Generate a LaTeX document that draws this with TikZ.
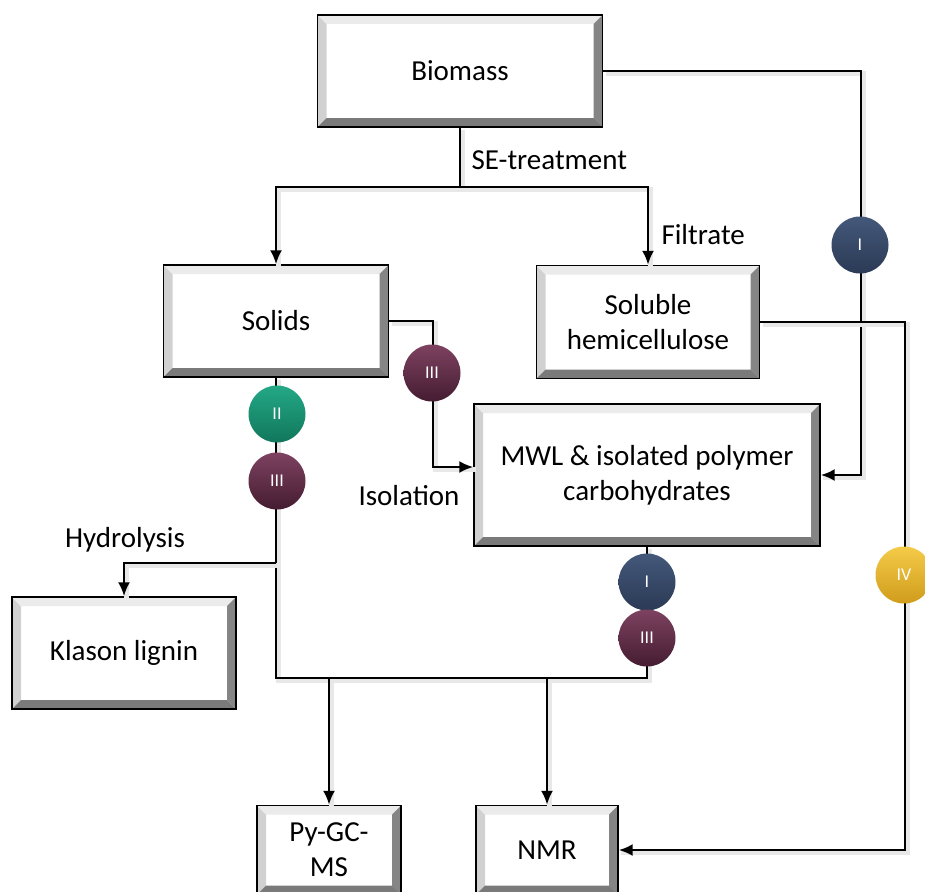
\documentclass[tikz,border=0pt]{standalone}
\usepackage{fontspec}
\setmainfont{Carlito}
\usetikzlibrary{arrows.meta}
\usetikzlibrary{calc}
\usetikzlibrary{positioning}

\definecolor{stageIt}{HTML}{44587A}
\definecolor{stageIb}{HTML}{2B3A55}
\definecolor{stageIIt}{HTML}{23A886}
\definecolor{stageIIb}{HTML}{11775C}
\definecolor{stageIIIt}{HTML}{7D4260}
\definecolor{stageIIIb}{HTML}{451C31}
\definecolor{stageIVt}{HTML}{F4CB48}
\definecolor{stageIVb}{HTML}{D09C1C}

\tikzset{
  bevelbox/.style 2 args={draw=black, line width=1.3pt, fill=white,
    minimum width=#1, minimum height=#2, align=center, inner sep=0pt,
    path picture={
      \fill [black!18] let \p1=(path picture bounding box.south west),
        \p2=(path picture bounding box.north east) in
        (\x1,\y1) -- (\x1,\y2) -- (\x1+9pt,\y2-9pt) -- (\x1+9pt,\y1+9pt) -- cycle;
      \fill [black!8] let \p1=(path picture bounding box.south west),
        \p2=(path picture bounding box.north east) in
        (\x1,\y2) -- (\x2,\y2) -- (\x2-9pt,\y2-9pt) -- (\x1+9pt,\y2-9pt) -- cycle;
      \fill [black!48] let \p1=(path picture bounding box.south west),
        \p2=(path picture bounding box.north east) in
        (\x2,\y2) -- (\x2,\y1) -- (\x2-9pt,\y1+9pt) -- (\x2-9pt,\y2-9pt) -- cycle;
      \fill [black!52] let \p1=(path picture bounding box.south west),
        \p2=(path picture bounding box.north east) in
        (\x1,\y1) -- (\x2,\y1) -- (\x2-9pt,\y1+9pt) -- (\x1+9pt,\y1+9pt) -- cycle;
    }},
  conn/.style={line width=2.6pt, -{Latex[length=14pt,width=12pt]},
    preaction={draw=black!9, line width=5pt, -,
      transform canvas={shift={(2.5pt,-2.5pt)}}}},
  line/.style={conn, -},
  stage/.style 2 args={circle, minimum size=57pt, inner sep=0pt,
    top color=#1, bottom color=#2, text=white,
    font=\fontsize{18}{20}\selectfont},
  lbl/.style={font=\fontsize{29}{35}\selectfont}
}

\begin{document}
\begin{tikzpicture}[x=1pt, y=-1pt, font=\fontsize{29}{35}\selectfont]

    \clip (0,0) rectangle (925,891);

    % boxes
    \node [bevelbox={285}{112}] (biomass) at (460,71) {Biomass};
    \node [bevelbox={225}{112}] (solids) at (276,321) {Solids};
    \node [bevelbox={223}{113}] (soluble) at (648,322) {Soluble\\hemicellulose};
    \node [bevelbox={346}{142}] (mwl) at (647,475)
    {MWL \& isolated polymer\\carbohydrates};
    \node [bevelbox={224}{112}] (klason) at (124,653) {Klason lignin};
    \node [bevelbox={144}{89}] (pygcms) at (329,850) {Py-GC-\\MS};
    \node [bevelbox={142}{89}] (nmr) at (547,850) {NMR};

    \coordinate (split) at (460,187);
    \coordinate (hydro) at (276,563);
    \coordinate (join) at (276,678);

    % connectors
    \draw [line] (biomass.south) -- (split);
    \draw [conn] (split) -| (solids.north);
    \draw [conn] (split) -| (soluble.north);

    \draw [conn] (biomass.east) -- ++(258,0) |- (mwl.east);
    \draw [conn] (solids.east) -- ++(44,0) |- ($(mwl.west)+(0,-8)$);
    \draw [conn] (soluble.east) -- ++(145,0) |- (nmr.east);

    \draw [line] (solids.south) -- (join) -| (mwl.south);
    \draw [conn] (hydro) -| (klason.north);
    \draw [conn] (join -| pygcms.north) -- (pygcms.north);
    \draw [conn] (join -| nmr.north) -- (nmr.north);

    % stages
    \node [stage={stageIt}{stageIb}] (sI) at (860,245) {I};
    \node [stage={stageIIIt}{stageIIIb}] (sIIIa) at (432,373) {III};
    \node [stage={stageIIt}{stageIIb}] (sII) at (277,414) {II};
    \node [stage={stageIIIt}{stageIIIb}] (sIIIb) at (277,481) {III};
    \node [stage={stageIt}{stageIb}] (sIb) at (647,582) {I};
    \node [stage={stageIIIt}{stageIIIb}] (sIIIc) at (647,638) {III};
    \node [stage={stageIVt}{stageIVb}] (sIV) at (904,575) {IV};

    % labels
    \node [lbl, anchor=west] (se) at (468,160) {SE-treatment};
    \node [lbl, anchor=west] (filt) at (658,235) {Filtrate};
    \node [lbl, anchor=east] (iso) at (463,496) {Isolation};
    \node [lbl] (hyd) at (125,540) {Hydrolysis};

  \end{tikzpicture}
\end{document}
